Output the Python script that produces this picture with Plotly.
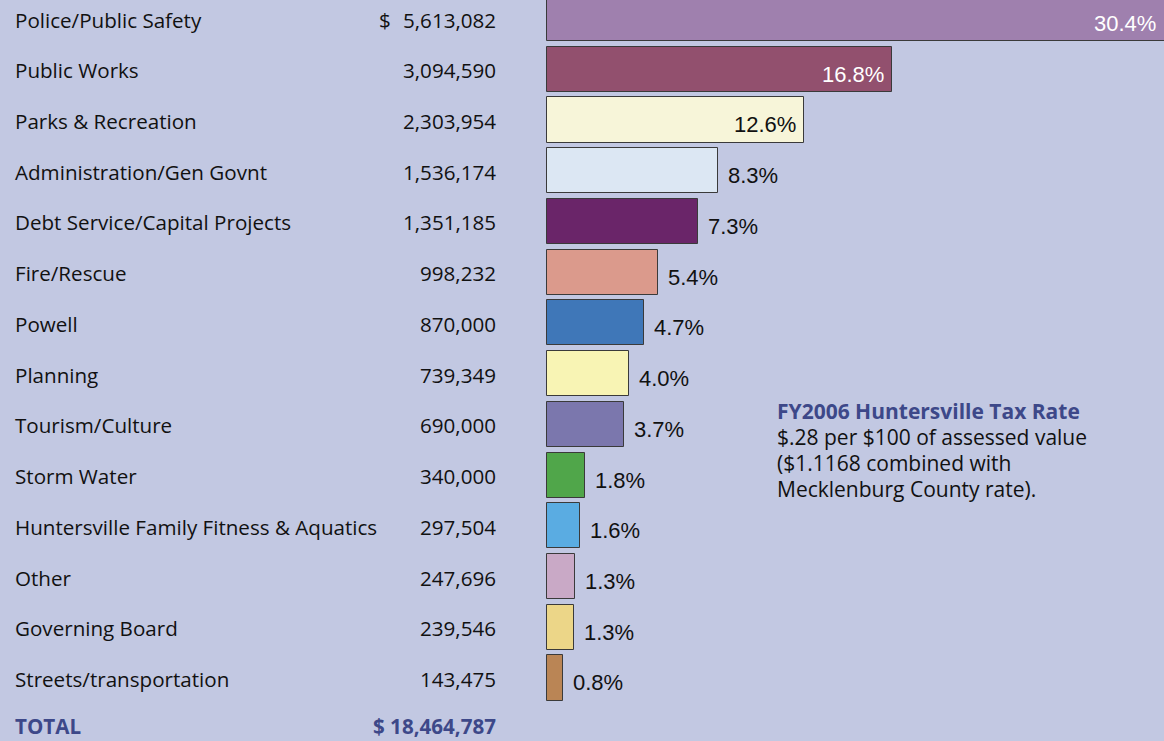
import plotly.graph_objects as go

categories = [
    "Police/Public Safety", "Public Works", "Parks & Recreation",
    "Administration/Gen Govnt", "Debt Service/Capital Projects", "Fire/Rescue",
    "Powell", "Planning", "Tourism/Culture", "Storm Water",
    "Huntersville Family Fitness & Aquatics", "Other", "Governing Board",
    "Streets/transportation",
]
amounts = [5613082, 3094590, 2303954, 1536174, 1351185, 998232, 870000,
           739349, 690000, 340000, 297504, 247696, 239546, 143475]
pct_labels = ["30.4%", "16.8%", "12.6%", "8.3%", "7.3%", "5.4%", "4.7%",
              "4.0%", "3.7%", "1.8%", "1.6%", "1.3%", "1.3%", "0.8%"]
colors = ["#9f80ae", "#92506e", "#f7f5d9", "#dce7f3", "#6a2569", "#db9a8c",
          "#3f77b8", "#f8f4b4", "#7b77ad", "#50a64a", "#5aace2", "#c9a9c6",
          "#ecd688", "#ba8555"]
total_label = "$ 18,464,787"
inside_count = 3
tax_title = "FY2006 Huntersville Tax Rate"
tax_lines = ["$.28 per $100 of assessed value", "($1.1168 combined with",
             "Mecklenburg County rate)."]

W, H = 1164, 741
BG = "#c2c8e2"
BLUE = "#3d4889"

# scale: pixels per dollar, bars start at x=547 px
ppd = 111.5e-6
x0_px = 547
x_min = -x0_px / ppd
x_max = (W - x0_px) / ppd

pitch = 50.73
y_top = -18.5 / pitch
y_bot = (H - 18.5) / pitch

idx = list(range(len(categories)))

fig = go.Figure()
fig.add_trace(go.Bar(
    x=amounts, y=idx, orientation="h",
    base=0,
    marker=dict(color=colors, line=dict(color="#3a3a3a", width=1)),
    width=0.89,
    hoverinfo="skip",
))

ann = []
cat_font = dict(family="Open Sans", size=20.6, color="#111111")
pct_size = 22
for i, (c, a, p) in enumerate(zip(categories, amounts, pct_labels)):
    ann.append(dict(x=13 / W, xref="paper", y=i, yref="y", text=c,
                    xanchor="left", yanchor="middle", showarrow=False,
                    font=cat_font, yshift=-1))
    ann.append(dict(x=498 / W, xref="paper", y=i, yref="y", text=f"{a:,}",
                    xanchor="right", yanchor="middle", showarrow=False,
                    font=cat_font, yshift=-1))
    if i < inside_count:
        xv = min(a, x_max)
        fc = "#ffffff" if i < 2 else "#111111"
        ann.append(dict(x=xv, xref="x", y=i, yref="y", text=p,
                        xanchor="right", yanchor="middle", showarrow=False,
                        xshift=-6, yshift=-5,
                        font=dict(family="Liberation Sans", size=pct_size, color=fc)))
    else:
        ann.append(dict(x=a, xref="x", y=i, yref="y", text=p,
                        xanchor="left", yanchor="middle", showarrow=False,
                        xshift=8, yshift=-5,
                        font=dict(family="Liberation Sans", size=pct_size, color="#111111")))

ann.append(dict(x=377 / W, xref="paper", y=0, yref="y", text="$",
                xanchor="left", yanchor="middle", showarrow=False,
                font=cat_font, yshift=-1))
n = len(categories)
bold_font = dict(family="Open Sans", size=20.6, color=BLUE)
ann.append(dict(x=13 / W, xref="paper", y=n, yref="y", text="<b>TOTAL</b>",
                xanchor="left", yanchor="middle", showarrow=False, font=bold_font,
                yshift=3))
ann.append(dict(x=498 / W, xref="paper", y=n, yref="y", text=f"<b>{total_label}</b>",
                xanchor="right", yanchor="middle", showarrow=False, font=bold_font,
                yshift=3))

tax_font = dict(family="Open Sans", size=21, color="#111111")
tax_all = [f"<b>{tax_title}</b>"] + tax_lines
tax_y = [411, 437, 463, 489]
for k, (t, yy) in enumerate(zip(tax_all, tax_y)):
    f = dict(tax_font)
    if k == 0:
        f["color"] = BLUE
    ann.append(dict(x=775 / W, xref="paper", y=1 - yy / H, yref="paper",
                    text=t, align="left", xanchor="left", yanchor="middle",
                    showarrow=False, font=f))

fig.update_layout(
    width=W, height=H,
    margin=dict(l=0, r=0, t=0, b=0),
    paper_bgcolor=BG, plot_bgcolor=BG,
    showlegend=False,
    xaxis=dict(range=[x_min, x_max], visible=False, fixedrange=True),
    yaxis=dict(range=[y_bot, y_top], visible=False, fixedrange=True),
    annotations=ann,
    bargap=0,
)

fig.write_html(
    "out.html",
    config={"displayModeBar": False},
    post_script="document.body.style.margin='0';document.body.style.overflow='hidden';document.body.style.background='" + BG + "';",
)
